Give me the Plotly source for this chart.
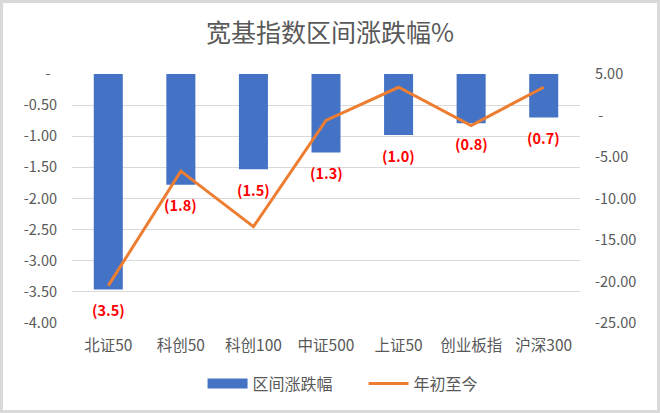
import plotly.graph_objects as go

# 宽基指数区间涨跌幅
indices = ["北证50", "科创50", "科创100", "中证500", "上证50", "创业板指", "沪深300"]
period_chg = [-3.46, -1.78, -1.53, -1.26, -0.98, -0.79, -0.70]   # 区间涨跌幅, left axis
ytd_chg = [-20.5, -6.7, -13.4, -0.6, 3.4, -1.2, 3.4]             # 年初至今, right axis

left_ticks = [0, -0.5, -1.0, -1.5, -2.0, -2.5, -3.0, -3.5, -4.0]
right_ticks = [5, 0, -5, -10, -15, -20, -25]

W, H = 660, 413
ML, MR, MT, MB = 72, 80, 74, 90

FONT = "Noto Sans CJK SC, Microsoft YaHei, sans-serif"
GREY = "#595959"
BLUE = "#4472C4"

def fmt(v):
    return "-\u00a0\u00a0" if v == 0 else f"{v:.2f}"

fig = go.Figure()

# legend-only stand-in so the bar key is a wide flat block like Excel's
fig.add_trace(go.Scatter(
    x=[indices[0]], y=[None], name="区间涨跌幅", mode="lines",
    line=dict(color=BLUE, width=10), hoverinfo="skip",
))

fig.add_trace(go.Bar(
    x=indices, y=period_chg, name="区间涨跌幅", showlegend=False,
    marker=dict(color=BLUE, line=dict(width=0)),
))

fig.add_trace(go.Scatter(
    x=indices, y=ytd_chg, name="年初至今", yaxis="y2",
    mode="lines", line=dict(color="#ED7D31", width=3),
))

# red data labels a little below each bar end
for name, v in zip(indices, period_chg):
    fig.add_annotation(x=name, y=v, xref="x", yref="y", text=f"({abs(v):.1f})",
                       showarrow=False, yanchor="middle", yshift=-20,
                       font=dict(color="#FF0000", size=14.5, family=FONT, weight="bold"))

pw = W - ML - MR
ph = H - MT - MB
# light grey frame around the whole chart
fig.add_shape(type="rect", xref="paper", yref="paper",
              x0=-(ML - 1.5) / pw, x1=1 + (MR - 1.5) / pw,
              y0=-(MB - 1.5) / ph, y1=1 + (MT - 1.5) / ph,
              line=dict(color="#D9D9D9", width=3))

fig.update_layout(
    width=W, height=H,
    margin=dict(l=ML, r=MR, t=MT, b=MB, autoexpand=False),
    paper_bgcolor="white", plot_bgcolor="white",
    font=dict(family=FONT, color=GREY, size=14),
    title=dict(text="宽基指数区间涨跌幅%", x=0.5, xanchor="center", y=0.92, yanchor="middle",
               font=dict(size=25, color=GREY, family=FONT)),
    bargap=0.6,
    showlegend=True,
    legend=dict(orientation="h", x=0.257, xanchor="left", y=-0.175, yanchor="top",
                font=dict(size=16, color=GREY), itemwidth=40,
                entrywidth=106, entrywidthmode="pixels"),
    xaxis=dict(showline=False, ticks="", tickfont=dict(size=15.5, color=GREY),
               ticklabelstandoff=11),
    yaxis=dict(range=[-4, 0], tickvals=left_ticks, ticktext=[fmt(v) for v in left_ticks],
               showgrid=True, gridcolor="#D9D9D9", gridwidth=1, zeroline=False,
               tickfont=dict(size=14.5, color=GREY), ticklabelstandoff=14, layer="below traces"),
    yaxis2=dict(range=[-25, 5], overlaying="y", side="right",
                tickvals=right_ticks, ticktext=["\u00a0-" if v == 0 else f"{v:.2f}" for v in right_ticks],
                showgrid=False, zeroline=False,
                tickfont=dict(size=14.5, color=GREY), ticklabelstandoff=14),
)

fig.write_html("out.html", config={"displayModeBar": False},
               post_script="document.body.style.margin='0';")
